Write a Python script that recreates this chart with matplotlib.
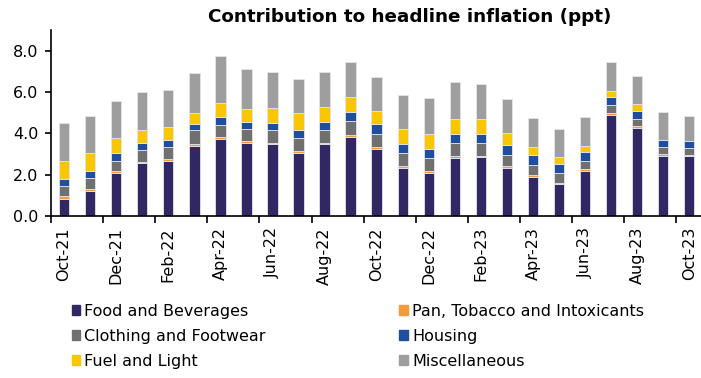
import numpy as np
import matplotlib.pyplot as plt
from matplotlib.patches import Patch

months = ['Oct-21', 'Nov-21', 'Dec-21', 'Jan-22', 'Feb-22', 'Mar-22', 'Apr-22',
          'May-22', 'Jun-22', 'Jul-22', 'Aug-22', 'Sep-22', 'Oct-22', 'Nov-22',
          'Dec-22', 'Jan-23', 'Feb-23', 'Mar-23', 'Apr-23', 'May-23', 'Jun-23',
          'Jul-23', 'Aug-23', 'Sep-23', 'Oct-23']

food = [0.82, 1.20, 2.07, 2.55, 2.68, 3.41, 3.72, 3.55, 3.46, 3.07, 3.46, 3.84, 3.26,
        2.34, 2.10, 2.83, 2.84, 2.33, 1.91, 1.53, 2.16, 4.88, 4.25, 2.91, 2.88]
pan = [0.15, 0.11, 0.11, 0.08, 0.08, 0.09, 0.08, 0.08, 0.08, 0.08, 0.08, 0.09, 0.07,
       0.08, 0.08, 0.09, 0.08, 0.08, 0.09, 0.09, 0.10, 0.10, 0.10, 0.09, 0.09]
clothing = [0.48, 0.52, 0.50, 0.57, 0.60, 0.64, 0.61, 0.57, 0.61, 0.61, 0.61, 0.67, 0.66,
            0.63, 0.61, 0.60, 0.60, 0.53, 0.49, 0.46, 0.42, 0.40, 0.35, 0.34, 0.31]
housing = [0.33, 0.37, 0.37, 0.35, 0.34, 0.30, 0.36, 0.36, 0.37, 0.39, 0.41, 0.44, 0.45,
           0.44, 0.46, 0.47, 0.47, 0.50, 0.48, 0.46, 0.42, 0.40, 0.40, 0.36, 0.35]
fuel = [0.90, 0.84, 0.71, 0.62, 0.60, 0.54, 0.72, 0.64, 0.71, 0.83, 0.72, 0.70, 0.66,
        0.73, 0.74, 0.71, 0.71, 0.60, 0.37, 0.32, 0.29, 0.28, 0.33, 0.0, 0.0]
misc = [1.84, 1.81, 1.81, 1.82, 1.82, 1.93, 2.23, 1.91, 1.73, 1.63, 1.68, 1.69, 1.65,
        1.64, 1.70, 1.76, 1.70, 1.61, 1.38, 1.36, 1.41, 1.39, 1.34, 1.31, 1.22]

names = ['Food and Beverages', 'Pan, Tobacco and Intoxicants', 'Clothing and Footwear',
         'Housing', 'Fuel and Light', 'Miscellaneous']
colors = ['#312762', '#f59a3c', '#707070', '#1f4e9e', '#f9c600', '#9e9e9e']
series = [food, pan, clothing, housing, fuel, misc]

plt.rcParams['font.family'] = ['DejaVu Sans']

fig = plt.figure(figsize=(7.01, 3.78), dpi=100)
ax = fig.add_axes([0.0728, 0.4286, 0.9272, 0.492])

x = np.arange(len(months))
bottom = np.zeros(len(months))
for vals, c in zip(series, colors):
    vals = np.array(vals)
    ax.bar(x, vals, 0.4, bottom=bottom, color=c, edgecolor='#e4e4ea', linewidth=0.6)
    bottom += vals

ax.set_xlim(-0.5, 24.45)
ax.set_ylim(0, 9)
ax.set_yticks([0, 2, 4, 6, 8])
ax.set_yticklabels(['0.0', '2.0', '4.0', '6.0', '8.0'], fontsize=11.5)
ax.set_xticks(x[::2])
ax.set_xticklabels(months[::2], rotation=90, fontsize=11.5)
ax.set_xticks(np.arange(-0.5, 24, 2), minor=True)
ax.tick_params(axis='x', which='major', length=0, pad=8)
ax.tick_params(axis='x', which='minor', length=5, width=1.2, direction='out')
ax.tick_params(axis='y', length=4, width=1.2, direction='out', pad=5)
for s in ['top', 'right']:
    ax.spines[s].set_visible(False)
ax.spines['left'].set_linewidth(1.2)
ax.spines['bottom'].set_linewidth(1.2)

fig.text(0.584, 0.955, 'Contribution to headline inflation (ppt)', ha='center', va='center',
         fontsize=13.2, fontweight='bold')

order = [0, 2, 4, 1, 3, 5]
handles = [Patch(color=colors[i], label=names[i]) for i in order]
fig.legend(handles=handles, ncol=2, loc='upper left', bbox_to_anchor=(0.093, 0.213),
           frameon=False, fontsize=11.5, handlelength=0.55, handleheight=0.55,
           handletextpad=0.25, columnspacing=8.35, labelspacing=0.62, borderaxespad=0)

fig.savefig('out.png', dpi=100)
